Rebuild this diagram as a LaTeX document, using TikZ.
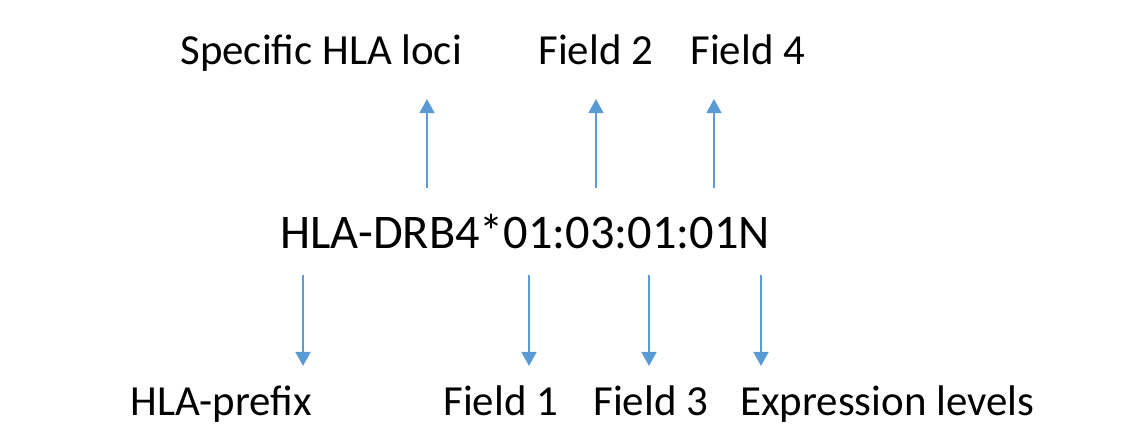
\documentclass[tikz,border=0pt]{standalone}
\usepackage{fontspec}
\setmainfont{Carlito}
\usetikzlibrary{arrows.meta, positioning}

\definecolor{arrowblue}{HTML}{5B9BD5}

\tikzset{
    lbl/.style={inner sep=0pt, anchor=base west, font=\fontsize{24.4}{28}\selectfont},
    code/.style={inner sep=0pt, anchor=base west, font=\fontsize{27.5}{32}\selectfont},
    arr/.style={draw=arrowblue, line width=1.1pt, -{Triangle[width=8.5pt,length=8pt]}}
}

\begin{document}
\begin{tikzpicture}[x=0.02cm, y=-0.02cm]
    \useasboundingbox (0,0) rectangle (1145,428);

    % allele name in the middle
    \node[code] (allele) at (280,249) {HLA-DRB4*01:03:01:01N};

    % labels above
    \node[lbl] (loci) at (180,65) {Specific HLA loci};
    \node[lbl] (fieldB) at (538,65) {Field 2};
    \node[lbl] (fieldD) at (690,65) {Field 4};

    % labels below
    \node[lbl] (prefix) at (130,416) {HLA-prefix};
    \node[lbl] (fieldA) at (443,416) {Field 1};
    \node[lbl] (fieldC) at (593,416) {Field 3};
    \node[lbl] (expr) at (740,416) {Expression levels};

    % arrow ends
    \coordinate (lociS) at (427,188);  \coordinate (lociE) at (427,99);
    \coordinate (fBS) at (596,188);    \coordinate (fBE) at (596,99);
    \coordinate (fDS) at (714,188);    \coordinate (fDE) at (714,99);
    \coordinate (preS) at (303,275);   \coordinate (preE) at (303,366);
    \coordinate (fAS) at (529,275);    \coordinate (fAE) at (529,366);
    \coordinate (fCS) at (649,275);    \coordinate (fCE) at (649,366);
    \coordinate (exS) at (761,275);    \coordinate (exE) at (761,366);

    \draw[arr] (lociS) -- (lociE);
    \draw[arr] (fBS) -- (fBE);
    \draw[arr] (fDS) -- (fDE);

    \draw[arr] (preS) -- (preE);
    \draw[arr] (fAS) -- (fAE);
    \draw[arr] (fCS) -- (fCE);
    \draw[arr] (exS) -- (exE);
\end{tikzpicture}
\end{document}
